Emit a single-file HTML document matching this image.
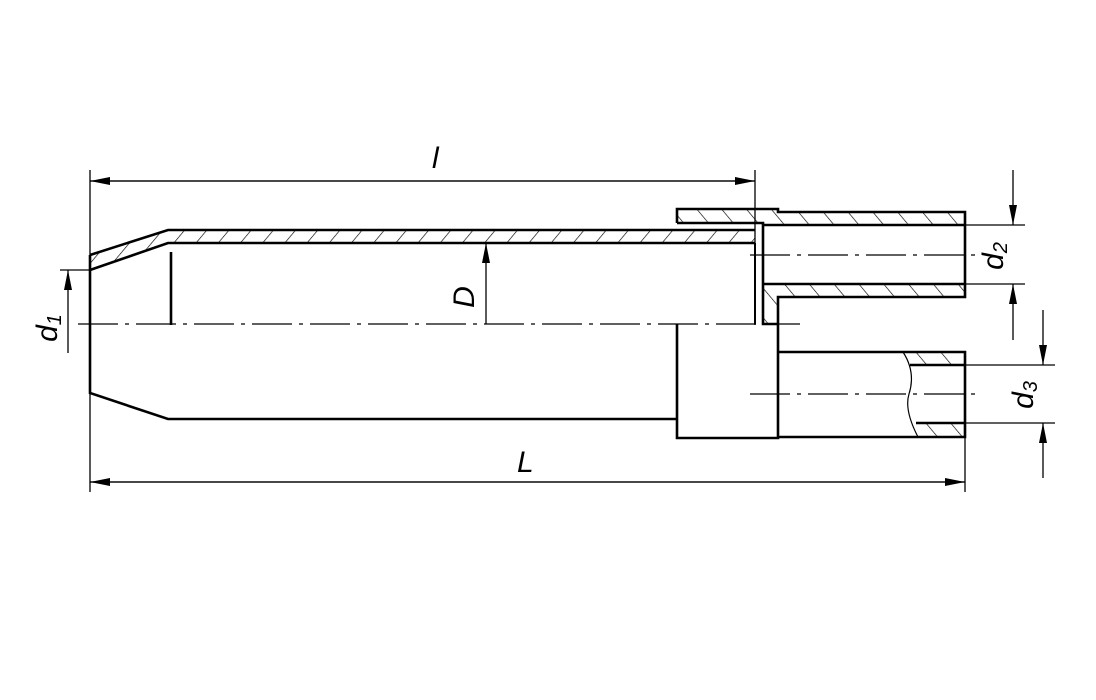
<!DOCTYPE html>
<html><head><meta charset="utf-8"><style>
html,body{margin:0;padding:0;background:#fff;}
svg{display:block;}
text{font-family:"Liberation Sans",sans-serif;font-style:italic;fill:#000;}
</style></head><body>
<svg width="1096" height="700" viewBox="0 0 1096 700" xmlns="http://www.w3.org/2000/svg">
<defs>
<pattern id="hf" patternUnits="userSpaceOnUse" width="17" height="17" patternTransform="rotate(40)">
<line x1="0" y1="0" x2="0" y2="17" stroke="#000" stroke-width="1.3"/></pattern>
<pattern id="hb" patternUnits="userSpaceOnUse" width="19" height="19" patternTransform="rotate(-40)">
<line x1="0" y1="0" x2="0" y2="19" stroke="#000" stroke-width="1.3"/></pattern>
<marker id="ar" viewBox="0 0 20 8" refX="20" refY="4" markerWidth="20" markerHeight="8" markerUnits="userSpaceOnUse" orient="auto">
<path d="M0,0 L20,4 L0,8 z" fill="#000"/></marker>
</defs>
<g stroke="#000" fill="none">
<!-- hatched fills -->
<path d="M90,255 L168,230 L755,230 L755,243 L168,243 L90,270 Z" fill="url(#hf)" stroke="none"/>
<path d="M677,209 L778,209 L778,212 L965,212 L965,225 L763,225 L763,223 L677,223 Z" fill="url(#hb)" stroke="none"/>
<path d="M778,284 L965,284 L965,297 L778,297 L778,324 L763,324 L763,284 Z" fill="url(#hb)" stroke="none"/>
<path d="M903,352 L965,352 L965,365 L912,365 Q905,358 903,352 Z" fill="url(#hb)" stroke="none"/>
<path d="M913,423 L965,423 L965,437 L918,437 Q914,430 913,423 Z" fill="url(#hb)" stroke="none"/>

<g stroke-width="2.6" stroke-linejoin="miter">
<!-- main body -->
<path d="M90,255 L168,230 L755,230"/>
<path d="M90,270 L168,243 L755,243"/>
<path d="M90,255 L90,393 L168,419 L677,419"/>
<line x1="171" y1="252" x2="171" y2="325"/>
<!-- sleeve -->
<path d="M677,223 L677,209 L778,209 L778,212 L965,212 L965,297 L778,297 L778,438 L677,438 L677,324"/>
<path d="M677,223 L763,223 L763,324 L778,324"/>
<line x1="763" y1="225" x2="965" y2="225"/>
<path d="M763,284 L965,284"/>
<line x1="755" y1="243" x2="755" y2="324" stroke-width="2"/>
<!-- d3 tube -->
<path d="M778,352 L965,352 L965,437 L778,437"/>
<line x1="910" y1="365" x2="965" y2="365"/>
<line x1="916" y1="423" x2="965" y2="423"/>
</g>
<path d="M903,352 Q916,372 909,394 Q904,410 918,437" stroke-width="1.2"/>

<!-- centerlines -->
<g stroke-width="1.3" stroke-dasharray="40,7,4,7">
<line x1="78" y1="324" x2="800" y2="324"/>
<line x1="750" y1="255" x2="976" y2="255"/>
<line x1="750" y1="394" x2="976" y2="394"/>
</g>

<!-- dimension lines -->
<g stroke-width="1.3">
<line x1="90" y1="170" x2="90" y2="492"/>
<line x1="755" y1="170" x2="755" y2="325"/>
<line x1="965" y1="437" x2="965" y2="492"/>
<line x1="90" y1="181" x2="755" y2="181" marker-end="url(#ar)"/>
<line x1="755" y1="181" x2="90" y2="181" marker-end="url(#ar)"/>
<line x1="90" y1="482" x2="965" y2="482" marker-end="url(#ar)"/>
<line x1="965" y1="482" x2="90" y2="482" marker-end="url(#ar)"/>
<line x1="486" y1="324" x2="486" y2="243" marker-end="url(#ar)"/>
<line x1="60" y1="270" x2="90" y2="270"/>
<line x1="68" y1="353" x2="68" y2="270" marker-end="url(#ar)"/>
<line x1="965" y1="225" x2="1025" y2="225"/>
<line x1="965" y1="284" x2="1025" y2="284"/>
<line x1="1013" y1="170" x2="1013" y2="225" marker-end="url(#ar)"/>
<line x1="1013" y1="340" x2="1013" y2="284" marker-end="url(#ar)"/>
<line x1="965" y1="365" x2="1055" y2="365"/>
<line x1="965" y1="423" x2="1055" y2="423"/>
<line x1="1043" y1="310" x2="1043" y2="365" marker-end="url(#ar)"/>
<line x1="1043" y1="478" x2="1043" y2="423" marker-end="url(#ar)"/>
</g>
</g>
<text x="432" y="168" font-size="30">l</text>
<text x="517" y="472" font-size="30">L</text>
<text transform="translate(474,297) rotate(-90)" font-size="30" text-anchor="middle">D</text>
<text transform="translate(57,328) rotate(-90)" font-size="30" text-anchor="middle">d<tspan font-size="20" dy="4">1</tspan></text>
<text transform="translate(1003,256) rotate(-90)" font-size="30" text-anchor="middle">d<tspan font-size="20" dy="4">2</tspan></text>
<text transform="translate(1033,395) rotate(-90)" font-size="30" text-anchor="middle">d<tspan font-size="20" dy="4">3</tspan></text>
</svg>
</body></html>
